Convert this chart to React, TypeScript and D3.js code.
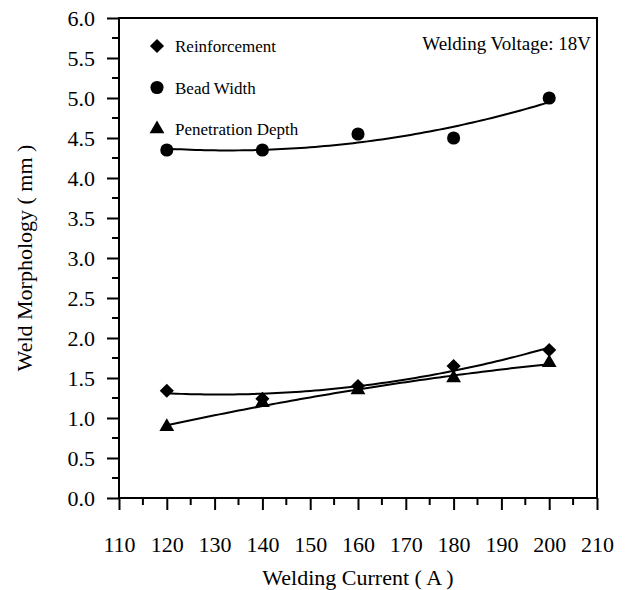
import * as d3 from "d3";
import React, { useEffect, useRef } from "react";

// welding current (A)
const currents = [120, 140, 160, 180, 200];
// measured weld morphology (mm)
const reinforcement = [1.34, 1.24, 1.4, 1.65, 1.85];
const beadWidth = [4.35, 4.35, 4.55, 4.5, 5.0];
const penetration = [0.89, 1.19, 1.35, 1.5, 1.69];

const xTicks = [110, 120, 130, 140, 150, 160, 170, 180, 190, 200, 210];
const yTicks = [0, 0.5, 1, 1.5, 2, 2.5, 3, 3.5, 4, 4.5, 5, 5.5, 6];

const legendNames = ["Reinforcement", "Bead Width", "Penetration Depth"];

// least squares 2nd order polynomial, like the trend lines in the original
function quadFit(xs: number[], ys: number[]) {
  const mx = d3.mean(xs)!;
  const u = xs.map(x => x - mx);
  const s = (p: number) => d3.sum(u, v => Math.pow(v, p));
  const t = (p: number) => d3.sum(u, (v, i) => Math.pow(v, p) * ys[i]);
  const A = [
    [xs.length, s(1), s(2)],
    [s(1), s(2), s(3)],
    [s(2), s(3), s(4)],
  ];
  const b = [t(0), t(1), t(2)];
  // gaussian elimination
  for (let i = 0; i < 3; i++) {
    for (let j = i + 1; j < 3; j++) {
      const f = A[j][i] / A[i][i];
      for (let k = i; k < 3; k++) A[j][k] -= f * A[i][k];
      b[j] -= f * b[i];
    }
  }
  const c = [0, 0, 0];
  for (let i = 2; i >= 0; i--) {
    let acc = b[i];
    for (let k = i + 1; k < 3; k++) acc -= A[i][k] * c[k];
    c[i] = acc / A[i][i];
  }
  return (x: number) => c[0] + c[1] * (x - mx) + c[2] * (x - mx) * (x - mx);
}

function drawChart(el: SVGSVGElement) {
  const svg = d3.select(el);
  svg.selectAll("*").remove();

  const margin = { top: 18, left: 119, right: 28, bottom: 92 };
  const width = 625 - margin.left - margin.right,
    height = 590 - margin.top - margin.bottom;
  const font = "Liberation Serif, Times New Roman, serif";

  const x = d3.scaleLinear().domain([110, 210]).range([0, width]);
  const y = d3.scaleLinear().domain([0, 6]).range([height, 0]);

  const g = svg.append("g").attr("transform", `translate(${margin.left},${margin.top})`);

  // frame
  g.append("rect")
    .attr("width", width)
    .attr("height", height)
    .attr("fill", "none")
    .attr("stroke", "#000")
    .attr("stroke-width", 2);

  // minor ticks
  const xMinor = d3.range(115, 210, 10);
  const yMinor = d3.range(0.25, 6, 0.5);
  g.append("g")
    .selectAll("line")
    .data(xMinor)
    .join("line")
    .attr("x1", d => x(d))
    .attr("x2", d => x(d))
    .attr("y1", height)
    .attr("y2", height + 7)
    .attr("stroke", "#000")
    .attr("stroke-width", 2);
  g.append("g")
    .selectAll("line")
    .data(yMinor)
    .join("line")
    .attr("x1", -7)
    .attr("x2", 0)
    .attr("y1", d => y(d))
    .attr("y2", d => y(d))
    .attr("stroke", "#000")
    .attr("stroke-width", 2);

  // x axis
  const xAxis = g
    .append("g")
    .attr("transform", `translate(0,${height})`)
    .call(d3.axisBottom(x).tickValues(xTicks).tickSize(12).tickPadding(26).tickFormat(d3.format("d")));
  xAxis.select(".domain").remove();
  xAxis.attr("font-family", null);
  xAxis.selectAll("line").attr("stroke-width", 2);
  xAxis.selectAll("text").style("font-family", font).style("font-size", "22px").attr("fill", "#000");

  // y axis
  const yAxis = g
    .append("g")
    .call(d3.axisLeft(y).tickValues(yTicks).tickSize(12).tickPadding(12).tickFormat(d3.format(".1f")));
  yAxis.select(".domain").remove();
  yAxis.attr("font-family", null);
  yAxis.selectAll("line").attr("stroke-width", 2);
  yAxis.selectAll("text").style("font-family", font).style("font-size", "22px").attr("fill", "#000");

  // titles
  svg.append("text")
    .attr("x", margin.left + width / 2)
    .attr("y", 585)
    .attr("text-anchor", "middle")
    .style("font-family", font)
    .style("font-size", "22px")
    .text("Welding Current ( A )");
  svg.append("text")
    .attr("transform", `translate(32,${margin.top + height / 2}) rotate(-90)`)
    .attr("text-anchor", "middle")
    .style("font-family", font)
    .style("font-size", "22px")
    .text("Weld Morphology ( mm )");

  const series = [
    { name: legendNames[0], values: reinforcement, shape: d3.symbolSquare, size: 100, rotate: 45 },
    { name: legendNames[1], values: beadWidth, shape: d3.symbolCircle, size: 135, rotate: 0 },
    { name: legendNames[2], values: penetration, shape: d3.symbolTriangle, size: 95, rotate: 0 },
  ];

  series.forEach(s => {
    const fit = quadFit(currents, s.values);
    const xs = d3.range(120, 200.01, 1);
    g.append("path")
      .attr("d", d3.line<number>().x(d => x(d)).y(d => y(fit(d)))(xs))
      .attr("fill", "none")
      .attr("stroke", "#000")
      .attr("stroke-width", 2);
    g.append("g")
      .selectAll("path")
      .data(currents)
      .join("path")
      .attr("transform", (d, i) => `translate(${x(d)},${y(s.values[i])}) rotate(${s.rotate})`)
      .attr("d", d3.symbol().type(s.shape).size(s.size)());
  });

  // legend
  const legend = g.append("g").attr("transform", "translate(38,28)");
  series.forEach((s, i) => {
    const row = legend.append("g").attr("transform", `translate(0,${i * 41.5})`);
    row.append("path")
      .attr("transform", `rotate(${s.rotate})`)
      .attr("d", d3.symbol().type(s.shape).size(s.size)());
    row.append("text")
      .attr("x", 18)
      .attr("y", 6)
      .style("font-family", font)
      .style("font-size", "17px")
      .text(s.name);
  });

  g.append("text")
    .attr("x", width - 6)
    .attr("y", 32)
    .attr("text-anchor", "end")
    .style("font-family", font)
    .style("font-size", "19px")
    .text("Welding Voltage: 18V");
}

export default function App() {
  const ref = useRef<SVGSVGElement>(null);
  useEffect(() => {
    if (ref.current) drawChart(ref.current);
  }, []);
  return (
    <svg
      ref={ref}
      width={625}
      height={590}
      style={{ position: "absolute", left: 0, top: 0, background: "#fff" }}
    />
  );
}
